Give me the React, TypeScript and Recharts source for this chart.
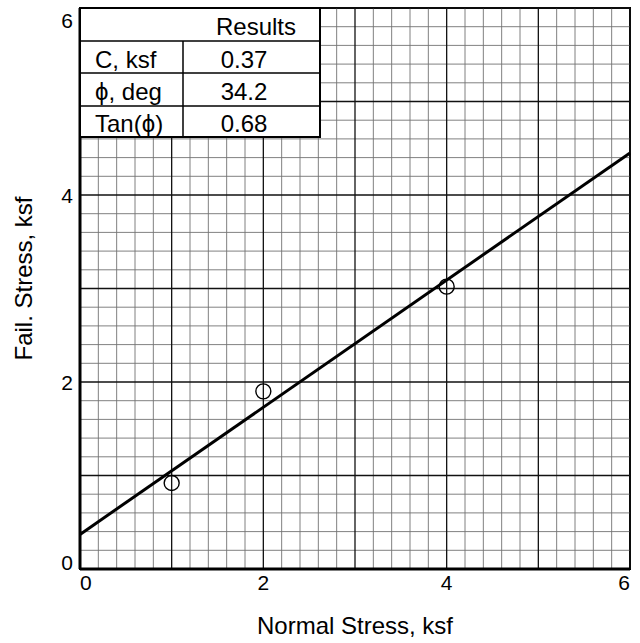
import React from 'react';
import {
  ComposedChart,
  Line,
  Scatter,
  XAxis,
  YAxis,
  ReferenceLine,
  ReferenceArea,
  Label,
} from 'recharts';

// Test points (normal stress, failure stress), ksf
const testPoints = [
  { x: 1, y: 0.92 },
  { x: 2, y: 1.9 },
  { x: 4, y: 3.02 },
];

// Fitted envelope end points (C = 0.37 intercept, slope 0.68)
const fitLine = [
  { x: 0, y: 0.37 },
  { x: 6, y: 4.45 },
];

const labelTicks = [0, 2, 4, 6];
const majorTicks = [0, 1, 2, 3, 4, 5, 6];
const minorTicks = Array.from({ length: 31 }, (_, i) => Number((i * 0.2).toFixed(1))).filter(
  (t) => !Number.isInteger(t)
);

const tableHeader = 'Results';
const paramLabels = ['C, ksf', 'ϕ, deg', 'Tan(ϕ)'];
const paramValues = ['0.37', '34.2', '0.68'];

const FONT = '"Liberation Sans", Arial, Helvetica, sans-serif';
const W = 640;
const H = 643;

// small nudges so the end labels sit where the original puts them
const yTickNudge: Record<number, number> = { 0: -7, 6: 11 };

function XTick({ x, y, payload }: any) {
  const v = payload.value;
  const anchor = v === 0 ? 'start' : v === 6 ? 'end' : 'middle';
  return (
    <text x={x} y={y + 13} textAnchor={anchor} fontSize={21} fontFamily={FONT} fill="#000">
      {v}
    </text>
  );
}

function YTick({ x, y, payload }: any) {
  const v = payload.value;
  return (
    <text x={x + 1} y={y + 7.5 + (yTickNudge[v] ?? 0)} textAnchor="end" fontSize={21} fontFamily={FONT} fill="#000">
      {v}
    </text>
  );
}

function XTitle({ viewBox }: any) {
  const cx = viewBox.x + viewBox.width / 2;
  return (
    <text x={cx} y={viewBox.y + 65} textAnchor="middle" fontSize={24} fontFamily={FONT} fill="#000">
      Normal Stress, ksf
    </text>
  );
}

function YTitle({ viewBox }: any) {
  const cx = viewBox.x + 32;
  const cy = viewBox.y + viewBox.height / 2 - 10;
  return (
    <text
      x={cx}
      y={cy}
      transform={`rotate(-90 ${cx} ${cy})`}
      textAnchor="middle"
      fontSize={24}
      fontFamily={FONT}
      fill="#000"
    >
      Fail. Stress, ksf
    </text>
  );
}

function ResultsTable() {
  const left = 80;
  const top = 8;
  const right = 320;
  const colDiv = 183;
  const rowLines = [41, 73, 106];
  const bottom = 137;
  const baselines = [68, 100, 132];
  return (
    <svg
      width={W}
      height={H}
      style={{ position: 'absolute', left: 0, top: 0, pointerEvents: 'none' }}
    >
      <rect x={left} y={top} width={right - left} height={bottom - top} fill="#fff" stroke="#000" strokeWidth={2} />
      {rowLines.map((ly) => (
        <line key={ly} x1={left} x2={right} y1={ly} y2={ly} stroke="#000" strokeWidth={1.5} />
      ))}
      <line x1={colDiv} x2={colDiv} y1={rowLines[0]} y2={bottom} stroke="#000" strokeWidth={1.5} />
      <text x={256} y={35} textAnchor="middle" fontSize={24} fontFamily={FONT} fill="#000">
        {tableHeader}
      </text>
      {paramLabels.map((t, i) => (
        <text key={t} x={95} y={baselines[i]} fontSize={24} fontFamily={FONT} fill="#000">
          {t}
        </text>
      ))}
      {paramValues.map((t, i) => (
        <text key={t} x={244} y={baselines[i]} textAnchor="middle" fontSize={24} fontFamily={FONT} fill="#000">
          {t}
        </text>
      ))}
    </svg>
  );
}

export default function App() {
  return (
    <div style={{ position: 'absolute', left: 0, top: 0, width: W, height: H, background: '#fff' }}>
      <ComposedChart width={W} height={H} margin={{ top: 8, right: 10, left: 0, bottom: 0 }}>
        <XAxis
          dataKey="x"
          type="number"
          domain={[0, 6]}
          ticks={labelTicks}
          height={74}
          tickLine={false}
          axisLine={{ stroke: '#000', strokeWidth: 3 }}
          tick={<XTick />}
        >
          <Label content={<XTitle />} />
        </XAxis>
        <YAxis
          dataKey="y"
          type="number"
          domain={[0, 6]}
          ticks={labelTicks}
          width={80}
          tickLine={false}
          axisLine={{ stroke: '#000', strokeWidth: 3 }}
          tick={<YTick />}
        >
          <Label content={<YTitle />} />
        </YAxis>

        {/* graph-paper grid: grey fifths, black whole units */}
        {minorTicks.map((t) => (
          <ReferenceLine key={`mx${t}`} x={t} stroke="#737373" strokeWidth={0.9} />
        ))}
        {minorTicks.map((t) => (
          <ReferenceLine key={`my${t}`} y={t} stroke="#737373" strokeWidth={0.9} />
        ))}
        {majorTicks.map((t) => (
          <ReferenceLine key={`Mx${t}`} x={t} stroke="#111" strokeWidth={1.3} />
        ))}
        {majorTicks.map((t) => (
          <ReferenceLine key={`My${t}`} y={t} stroke="#111" strokeWidth={1.3} />
        ))}

        <ReferenceArea x1={0} x2={6} y1={0} y2={6} fill="none" stroke="#000" strokeWidth={2} />

        <Line
          data={fitLine}
          dataKey="y"
          stroke="#000"
          strokeWidth={3}
          dot={false}
          isAnimationActive={false}
        />
        <Scatter
          data={testPoints}
          dataKey="y"
          isAnimationActive={false}
          shape={(p: any) => (
            <circle cx={p.cx} cy={p.cy} r={7.5} fill="none" stroke="#000" strokeWidth={1.4} />
          )}
        />
      </ComposedChart>
      <ResultsTable />
    </div>
  );
}
